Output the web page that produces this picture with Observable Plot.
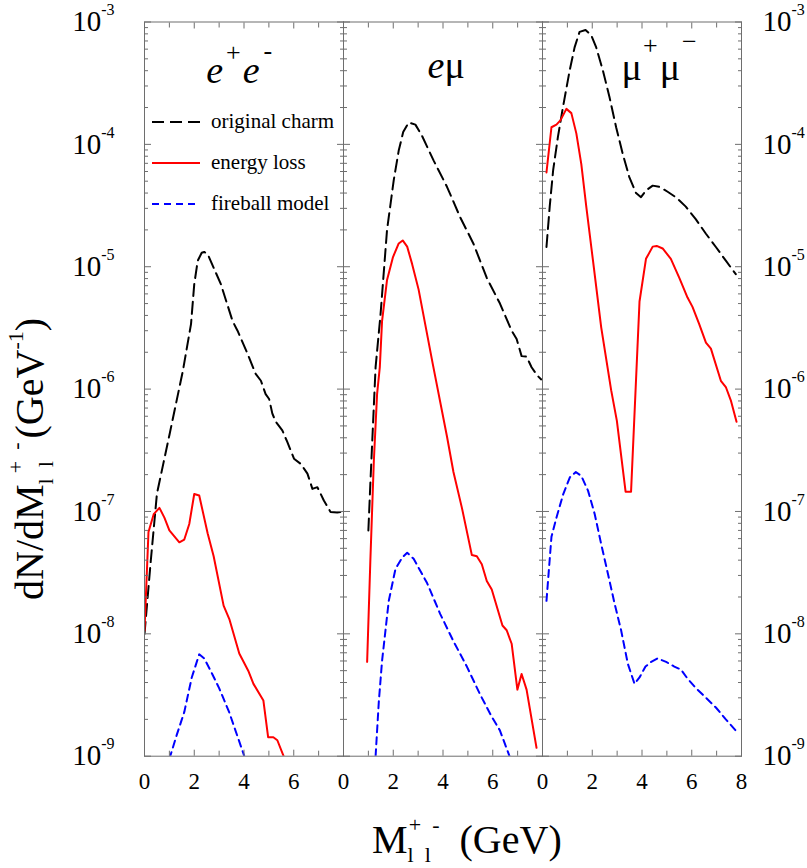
<!DOCTYPE html>
<html>
<head>
<meta charset="utf-8">
<script src="https://cdn.jsdelivr.net/npm/d3@7"></script>
<script src="https://cdn.jsdelivr.net/npm/@observablehq/plot@0.6"></script>
<style>
  html, body { margin: 0; padding: 0; background: #fff; }
  #wrap { position: relative; width: 807px; height: 868px; overflow: hidden; font-family: "Liberation Serif", "Times New Roman", serif; }
  #overlay { position: absolute; left: 0; top: 0; pointer-events: none; }
</style>
</head>
<body>
<div id="wrap"></div>
<script>
// ---------------- data ----------------
const panels = ["ee", "emu", "mumu"];
const seriesNames = ["original charm", "energy loss", "fireball model"];

// e+e- panel
const charmEE_x = [0, 0.25, 0.5, 1.0, 1.54, 1.87, 2.0, 2.14, 2.3, 2.4, 2.54, 3.07, 3.54, 3.74, 4.14, 4.47, 4.68, 4.87, 5.01, 5.14, 5.28, 5.54, 5.74, 6.01, 6.28, 6.55, 6.75, 6.95, 7.21, 7.48, 7.75, 8.0];
const charmEE_y = [1.0e-8, 3.9e-8, 1.4e-7, 4.2e-7, 1.4e-6, 3.4e-6, 7.2e-6, 1.12e-5, 1.3e-5, 1.32e-5, 1.27e-5, 7.2e-6, 3.6e-6, 3.0e-6, 1.95e-6, 1.33e-6, 1.17e-6, 9.1e-7, 8.3e-7, 6.3e-7, 5.4e-7, 4.6e-7, 3.7e-7, 2.7e-7, 2.45e-7, 2.04e-7, 1.53e-7, 1.58e-7, 1.23e-7, 9.9e-8, 9.8e-8, 1.0e-7];
const elossEE_x = [0, 0.16, 0.37, 0.6, 0.8, 1.0, 1.4, 1.6, 1.8, 2.0, 2.2, 2.54, 2.78, 3.18, 3.41, 3.81, 4.17, 4.38, 4.78, 4.97, 5.18, 5.34, 5.61];
const elossEE_y = [1.06e-8, 6.8e-8, 9.5e-8, 1.07e-7, 8.9e-8, 7.0e-8, 5.6e-8, 5.9e-8, 7.9e-8, 1.39e-7, 1.35e-7, 6.6e-8, 4.3e-8, 1.7e-8, 1.32e-8, 6.9e-9, 5.0e-9, 3.9e-9, 2.85e-9, 1.43e-9, 1.43e-9, 1.35e-9, 9.8e-10];
const fireEE_x = [1.0, 1.3, 1.6, 1.9, 2.2, 2.4, 2.7, 3.0, 3.4, 3.75, 4.05];
const fireEE_y = [9.5e-10, 1.5e-9, 2.3e-9, 4.4e-9, 6.8e-9, 6.3e-9, 4.8e-9, 3.6e-9, 2.3e-9, 1.43e-9, 9.5e-10];

// e mu panel
const charmEMU_x = [1.0, 1.08, 1.29, 1.49, 1.75, 2.02, 2.22, 2.40, 2.62, 2.89, 3.16, 3.62, 4.16, 4.69, 5.22, 5.76, 6.29, 6.76, 6.96, 7.16, 7.36, 7.56, 7.79, 7.95];
const charmEMU_y = [7e-8, 1.7e-7, 1.51e-6, 4.1e-6, 2.0e-5, 5.1e-5, 8.9e-5, 1.26e-4, 1.51e-4, 1.45e-4, 1.17e-4, 7.4e-5, 4.5e-5, 2.54e-5, 1.55e-5, 8.1e-6, 5.0e-6, 3.0e-6, 2.57e-6, 1.86e-6, 1.84e-6, 1.51e-6, 1.29e-6, 1.2e-6];
const elossEMU_x = [0.95, 1.08, 1.22, 1.35, 1.46, 1.55, 1.75, 1.99, 2.22, 2.38, 2.56, 2.76, 3.02, 3.59, 4.16, 4.42, 4.76, 5.16, 5.36, 5.56, 5.76, 5.96, 6.39, 6.56, 6.76, 6.99, 7.16, 7.36, 7.76];
const elossEMU_y = [5.9e-9, 4.0e-8, 2.6e-7, 9.1e-7, 1.51e-6, 3.6e-6, 7.8e-6, 1.2e-5, 1.55e-5, 1.64e-5, 1.46e-5, 1.05e-5, 6.5e-6, 1.6e-6, 4.1e-7, 2.1e-7, 1.07e-7, 4.4e-8, 4.3e-8, 3.7e-8, 2.7e-8, 2.3e-8, 1.17e-8, 1.07e-8, 8.3e-9, 3.5e-9, 4.7e-9, 3.5e-9, 1.17e-9];
const fireEMU_x = [1.29, 1.42, 1.55, 1.82, 2.09, 2.36, 2.56, 2.82, 3.36, 3.89, 4.42, 4.96, 5.49, 5.96, 6.29, 6.69];
const fireEMU_y = [1.0e-9, 2.8e-9, 6.0e-9, 1.86e-8, 3.4e-8, 4.2e-8, 4.6e-8, 4.1e-8, 2.6e-8, 1.45e-8, 8.7e-9, 5.4e-9, 3.2e-9, 2.1e-9, 1.62e-9, 9.8e-10];

// mu+ mu- panel
const charmMUMU_x = [0.16, 0.29, 0.43, 0.62, 0.82, 1.09, 1.29, 1.49, 1.73, 1.96, 2.16, 2.43, 2.69, 2.96, 3.23, 3.49, 3.76, 3.96, 4.16, 4.43, 4.70, 5.03, 5.36, 5.76, 6.16, 6.57, 6.97, 7.37, 7.77];
const charmMUMU_y = [1.45e-5, 3.1e-5, 6.2e-5, 1.15e-4, 2.0e-4, 4.0e-4, 6.2e-4, 8.3e-4, 8.6e-4, 7.8e-4, 6.2e-4, 4.0e-4, 2.45e-4, 1.38e-4, 8.3e-5, 5.4e-5, 4.0e-5, 3.7e-5, 4.2e-5, 4.6e-5, 4.5e-5, 4.1e-5, 3.7e-5, 3.1e-5, 2.45e-5, 1.86e-5, 1.45e-5, 1.12e-5, 8.7e-6];
const elossMUMU_x = [0.16, 0.36, 0.56, 0.72, 0.96, 1.16, 1.36, 1.56, 1.76, 2.03, 2.36, 2.76, 2.99, 3.34, 3.56, 3.90, 4.16, 4.43, 4.59, 4.83, 5.16, 5.50, 5.83, 6.03, 6.30, 6.57, 6.77, 7.17, 7.37, 7.57, 7.80];
const elossMUMU_y = [5.9e-5, 1.38e-4, 1.45e-4, 1.57e-4, 1.95e-4, 1.8e-4, 1.23e-4, 6.9e-5, 3.1e-5, 1.12e-5, 3.2e-6, 9.8e-7, 5.5e-7, 1.45e-7, 1.45e-7, 5.2e-6, 1.16e-5, 1.46e-5, 1.48e-5, 1.41e-5, 1.16e-5, 8.1e-6, 5.6e-6, 4.7e-6, 3.4e-6, 2.4e-6, 2.14e-6, 1.17e-6, 1.04e-6, 8.1e-7, 5.4e-7];
const fireMUMU_x = [0.16, 0.36, 0.56, 0.83, 1.10, 1.34, 1.56, 1.83, 2.10, 2.36, 2.63, 2.90, 3.16, 3.43, 3.70, 3.90, 4.14, 4.37, 4.63, 4.97, 5.30, 5.57, 5.83, 6.17, 6.57, 6.97, 7.37, 7.77];
const fireMUMU_y = [1.86e-8, 6.2e-8, 8.9e-8, 1.38e-7, 1.9e-7, 2.1e-7, 1.95e-7, 1.48e-7, 9.5e-8, 5.4e-8, 3.1e-8, 1.76e-8, 1.07e-8, 5.7e-9, 3.9e-9, 4.4e-9, 5.4e-9, 5.9e-9, 6.3e-9, 5.9e-9, 5.4e-9, 5.1e-9, 4.3e-9, 3.6e-9, 3.0e-9, 2.5e-9, 2.0e-9, 1.62e-9];

// axes
const yMajorTicks = [1e-9, 1e-8, 1e-7, 1e-6, 1e-5, 1e-4, 1e-3];
const xMajorTicks = [0, 2, 4, 6, 8];
const xMinorTicks = [1, 3, 5, 7];
const xTickLabels = [0, 2, 4, 6];
const xTickLabelsLast = [8];
const yMinorTicks = [];
for (const t of yMajorTicks.slice(0, -1)) for (let m = 2; m <= 9; m++) yMinorTicks.push(m * t);

// ---------------- build table ----------------
function rows(panel, series, xs, ys) { return xs.map((x, i) => ({panel, series, x, y: ys[i]})); }
const data = [
  ...rows("ee", "charm", charmEE_x, charmEE_y),
  ...rows("ee", "eloss", elossEE_x, elossEE_y),
  ...rows("ee", "fire", fireEE_x, fireEE_y),
  ...rows("emu", "charm", charmEMU_x, charmEMU_y),
  ...rows("emu", "eloss", elossEMU_x, elossEMU_y),
  ...rows("emu", "fire", fireEMU_x, fireEMU_y),
  ...rows("mumu", "charm", charmMUMU_x, charmMUMU_y),
  ...rows("mumu", "eloss", elossMUMU_x, elossMUMU_y),
  ...rows("mumu", "fire", fireMUMU_x, fireMUMU_y)
];
const GRAY = "#6e6e6e";
const styles = {
  charm: {stroke: "#000", strokeDasharray: "12,6"},
  eloss: {stroke: "#ff0000", strokeDasharray: null},
  fire: {stroke: "#0000ff", strokeDasharray: "7,5"}
};

const tickAxis = (dir, anchor, ticks, size) =>
  (dir === "y" ? Plot.axisY : Plot.axisX)({
    anchor, ticks, tickSize: -size, tickFormat: () => "", label: null,
    facetAnchor: null, stroke: GRAY, strokeWidth: 1
  });

const plot = Plot.plot({
  width: 807,
  height: 868,
  marginLeft: 143,
  marginRight: 65,
  marginTop: 21.5,
  marginBottom: 112.3,
  style: {fontFamily: "Liberation Serif, Times New Roman, serif", background: "#fff", color: "#000"},
  fx: {domain: panels, padding: 0, axis: null, label: null},
  x: {domain: [0, 8]},
  y: {type: "log", domain: [1e-9, 1e-3]},
  marks: [
    ...["charm", "eloss", "fire"].map(s =>
      Plot.line(data.filter(d => d.series === s), {
        fx: "panel", x: "x", y: "y",
        stroke: styles[s].stroke, strokeWidth: 2,
        strokeDasharray: styles[s].strokeDasharray, clip: true
      })
    ),
    Plot.frame({stroke: GRAY, strokeWidth: 1}),
    tickAxis("y", "left", yMajorTicks, 7),
    tickAxis("y", "right", yMajorTicks, 7),
    tickAxis("y", "left", yMinorTicks, 4),
    tickAxis("y", "right", yMinorTicks, 4),
    tickAxis("x", "bottom", xMajorTicks, 6),
    tickAxis("x", "top", xMajorTicks, 6),
    tickAxis("x", "bottom", xMinorTicks, 5),
    tickAxis("x", "top", xMinorTicks, 5),
    Plot.axisY({anchor: "left", ticks: yMajorTicks, tickSize: 0, tickPadding: 30, fontSize: 29, label: null,
      tickFormat: d => "10^" + Math.round(Math.log10(d))}),
    Plot.axisY({anchor: "right", ticks: yMajorTicks, tickSize: 0, tickPadding: 21, fontSize: 29, label: null,
      tickFormat: d => "10^" + Math.round(Math.log10(d))}),
    Plot.axisX({anchor: "bottom", ticks: xTickLabels, tickSize: 0, tickPadding: 16, fontSize: 23, label: null,
      facetAnchor: null, tickFormat: d => String(d)}),
    Plot.axisX({anchor: "bottom", ticks: xTickLabelsLast, tickSize: 0, tickPadding: 16, fontSize: 23, label: null,
      facetAnchor: "right", tickFormat: d => String(d)})
  ]
});

const NS = "http://www.w3.org/2000/svg";
// superscript powers of ten on the y tick labels
for (const t of plot.querySelectorAll("text")) {
  const m = /^10\^(-?\d+)$/.exec(t.textContent.trim());
  if (!m) continue;
  t.textContent = "";
  const base = document.createElementNS(NS, "tspan");
  base.textContent = "10";
  const sup = document.createElementNS(NS, "tspan");
  sup.textContent = m[1];
  sup.setAttribute("font-size", "16");
  sup.setAttribute("dy", "-16");
  t.append(base, sup);
}

const wrap = document.getElementById("wrap");
wrap.appendChild(plot);

// ---------------- overlay text (titles, panel labels, legend) ----------------
const fx = plot.scale("fx"), xs = plot.scale("x");
const px = (panel, v) => fx.apply(panel) + xs.apply(v) - xs.range[0];

const ov = document.createElementNS(NS, "svg");
ov.setAttribute("id", "overlay");
ov.setAttribute("width", 807);
ov.setAttribute("height", 868);
ov.setAttribute("font-family", "Liberation Serif, Times New Roman, serif");
wrap.appendChild(ov);

function el(tag, attrs, parent) {
  const e = document.createElementNS(NS, tag);
  for (const k in attrs) e.setAttribute(k, attrs[k]);
  (parent || ov).appendChild(e);
  return e;
}
function rich(parent, parts) {
  for (const p of parts) {
    const ts = el("tspan", p.attrs || {}, parent);
    ts.textContent = p.t;
  }
}

// panel labels
const panelLabels = [
  {panel: "ee", at: 2.5, y: 83, parts: [
    {t: "e", attrs: {"font-style": "italic"}},
    {t: "+", attrs: {"font-size": 26, dy: -22, dx: 3}},
    {t: "e", attrs: {"font-style": "italic", dy: 22, dx: 2}},
    {t: "-", attrs: {"font-size": 26, dy: -24, dx: 4}}
  ]},
  {panel: "emu", at: 3.4, y: 78, parts: [
    {t: "e", attrs: {"font-style": "italic"}},
    {t: "\u03bc"}
  ]},
  {panel: "mumu", at: 3.2, y: 80, parts: [
    {t: "\u03bc"},
    {t: "+", attrs: {"font-size": 26, dy: -26, dx: 1}},
    {t: "\u03bc", attrs: {dy: 26, dx: 2}},
    {t: "\u2212", attrs: {"font-size": 26, dy: -30, dx: 2}}
  ]}
];
for (const L of panelLabels) {
  const t = el("text", {x: px(L.panel, L.at), y: L.y, "font-size": 38, fill: "#000"});
  rich(t, L.parts);
}

// legend (inside first panel)
const legendY = [122, 163, 204];
const legendKeys = ["charm", "eloss", "fire"];
legendKeys.forEach((k, i) => {
  el("line", {x1: 152, x2: 200, y1: legendY[i], y2: legendY[i], stroke: styles[k].stroke, "stroke-width": 2,
    "stroke-dasharray": styles[k].strokeDasharray || "none"});
  const t = el("text", {x: 211, y: legendY[i] + 6, "font-size": 21, fill: "#000"});
  t.textContent = seriesNames[i];
});

// x title
const xt = el("text", {x: 372, y: 853, "font-size": 40, fill: "#000"});
rich(xt, [
  {t: "M"},
  {t: "l\u2002l", attrs: {"font-size": 22, dy: 9}},
  {t: "+\u2002-", attrs: {"font-size": 22, dy: -30, dx: -22}},
  {t: "\u2002(GeV)", attrs: {dy: 21}}
]);

// y title
const yt = el("text", {transform: "translate(43,600) rotate(-90)", "font-size": 40, fill: "#000"});
rich(yt, [
  {t: "dN/dM"},
  {t: "l\u2002l", attrs: {"font-size": 22, dy: 10}},
  {t: "+\u2002-", attrs: {"font-size": 22, dy: -30, dx: -12}},
  {t: "(GeV", attrs: {dy: 20, dx: 4}},
  {t: "-1", attrs: {"font-size": 22, dy: -20}},
  {t: ")", attrs: {dy: 20}}
]);
</script>
</body>
</html>
